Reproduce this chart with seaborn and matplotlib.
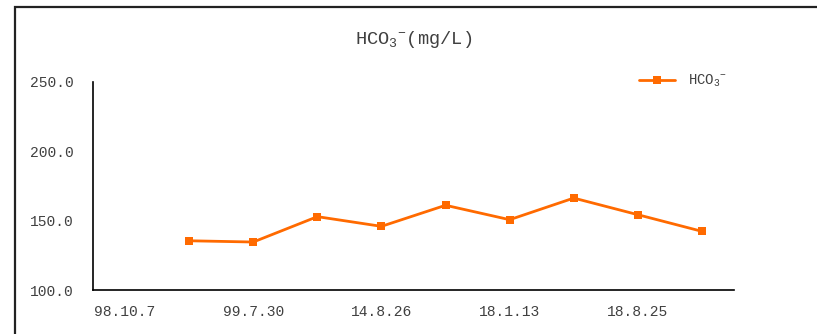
import numpy as np
import pandas as pd
import matplotlib
matplotlib.use("Agg")
import matplotlib.pyplot as plt
import seaborn as sns

# Sampling dates (only every other one is labelled on the axis)
sample_labels = ["98.10.7", "", "99.7.30", "", "14.8.26", "", "18.1.13", "", "18.8.25", ""]
# HCO3- concentration (mg/L); first date has no measurement
hco3_values = [np.nan, 135.5, 134.6, 152.9, 145.9, 161.1, 150.7, 166.3, 154.3, 142.3]
series_name = r"HCO$_{3}{}^{-}$"

sns.set_style("white")
plt.rcParams["font.family"] = ["Liberation Mono", "DejaVu Sans Mono"]
plt.rcParams["mathtext.fontset"] = "custom"
plt.rcParams["mathtext.rm"] = "Liberation Mono"
plt.rcParams["mathtext.it"] = "Liberation Mono"
plt.rcParams["mathtext.default"] = "rm"

text_color = "#404040"
line_color = "#FF6A00"

df = pd.DataFrame({"pos": np.arange(len(sample_labels)), "value": hco3_values})

fig = plt.figure(figsize=(8.17, 3.34), dpi=100)
ax = fig.add_axes([93 / 817, 44 / 334, 641 / 817, 208 / 334])

sns.lineplot(data=df.dropna(), x="pos", y="value", ax=ax, color=line_color,
             linewidth=2.0, marker="s", markersize=5.5, markeredgewidth=0,
             label=series_name, legend=False)

ax.set_xlim(-0.5, len(sample_labels) - 0.5)
ax.set_ylim(100, 250)
ax.set_yticks([100, 150, 200, 250])
ax.set_yticklabels([f"{v:.1f}" for v in [100, 150, 200, 250]], color=text_color, fontsize=10.5)

# labels at category centres, tick marks at category boundaries
ax.set_xticks(np.arange(len(sample_labels)))
ax.set_xticklabels(sample_labels, color=text_color, fontsize=10.5)
ax.set_xticks(np.arange(-0.5, len(sample_labels)), minor=True)
ax.tick_params(axis="x", which="major", length=0, pad=11)
ax.tick_params(axis="x", which="minor", direction="in", length=4, width=1, color="black")
ax.tick_params(axis="y", which="major", direction="in", length=3, width=1, color="black", pad=14)

ax.set_xlabel("")
ax.set_ylabel("")
for side in ["top", "right"]:
    ax.spines[side].set_visible(False)
for side in ["left", "bottom"]:
    ax.spines[side].set_color("black")
    ax.spines[side].set_linewidth(1.2)

fig.text(414 / 817, 1 - 40 / 334, r"HCO$_{3}{}^{-}$(mg/L)", ha="center", va="center",
         fontsize=13.5, color=text_color)

leg = fig.legend(handles=ax.get_lines()[:1], labels=[series_name],
                 loc="center left", bbox_to_anchor=(626 / 817, 1 - 81 / 334),
                 frameon=False, fontsize=10, handlelength=2.6, handletextpad=1.0,
                 labelcolor=text_color)

# outer chart frame
fig.add_artist(plt.Rectangle((15 / 817, -0.2), 1.2, 1 - 7 / 334 + 0.2,
                             transform=fig.transFigure, fill=False,
                             edgecolor="#222222", linewidth=1.6))

fig.savefig("out.png", dpi=100)
